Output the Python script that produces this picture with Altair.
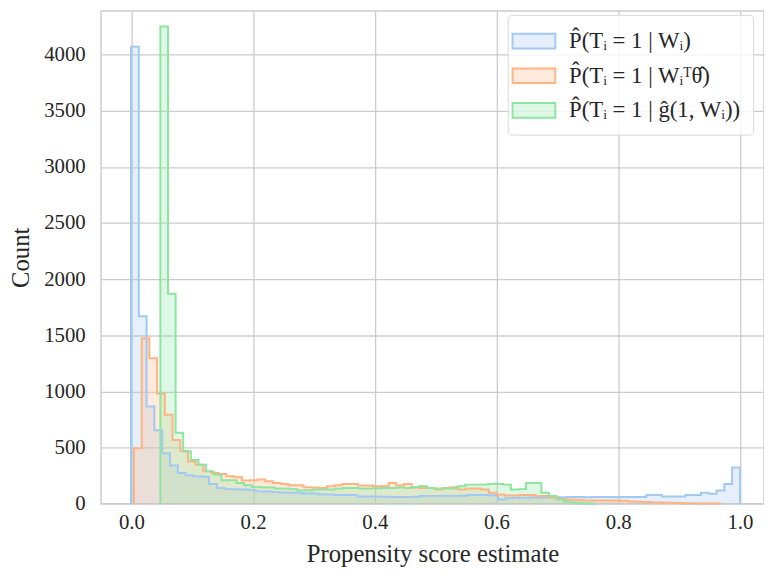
import altair as alt
import pandas as pd

# ---- data ----
series_names = [
    "P̂(Tᵢ = 1 | Wᵢ)",
    "P̂(Tᵢ = 1 | Wᵢᵀθ̂)",
    "P̂(Tᵢ = 1 | ĝ(1, Wᵢ))",
]

# bin start and bin width (data units) of each histogram
blue_start, blue_width = -0.0007, 0.01283
orange_start, orange_width = 0.0042, 0.01268
green_start, green_width = 0.0476, 0.01252

blue_counts = [
    4070, 1670, 866, 655, 450, 340, 273, 253, 245, 240,
    176, 141, 130, 128, 126, 122, 110, 108, 105, 100,
    97, 97, 92, 90, 85, 82, 77, 77, 77, 64,
    64, 64, 62, 60, 60, 60, 62, 68, 68, 68,
    70, 68, 70, 77, 77, 77, 75, 38, 48, 53,
    53, 55, 53, 57, 58, 57, 59, 59, 58, 59,
    59, 60, 60, 60, 59, 60, 77, 77, 64, 64,
    64, 77, 77, 97, 88, 117, 176, 323,
]

orange_counts = [
    493, 1471, 1295, 978, 793, 567, 470, 376, 346, 288,
    273, 265, 244, 235, 206, 210, 215, 200, 185, 176,
    165, 165, 147, 145, 141, 156, 165, 176, 176, 162,
    162, 155, 156, 185, 165, 176, 145, 141, 141, 126,
    141, 147, 126, 135, 135, 126, 97, 82, 73, 73,
    77, 77, 68, 68, 53, 40, 38, 35, 29, 29,
    28, 29, 28, 27, 20, 18, 16, 12, 10, 8,
    6, 5, 4, 3, 2, 2,
]

green_counts = [
    4250, 1870, 632, 464, 390, 346, 288, 258, 209, 209,
    185, 165, 150, 147, 145, 135, 135, 130, 117, 120,
    126, 126, 126, 135, 141, 141, 135, 135, 138, 141,
    141, 145, 141, 150, 156, 141, 135, 135, 135, 156,
    170, 170, 170, 176, 176, 170, 126, 130, 185, 185,
    97, 68, 38, 20, 10, 5, 2,
]

x_ticks = [0.0, 0.2, 0.4, 0.6, 0.8, 1.0]
y_ticks = [0, 500, 1000, 1500, 2000, 2500, 3000, 3500, 4000]

line_colors = ["#a1c9f4", "#ffb482", "#8de5a1"]
fill_colors = ["rgba(161,201,244,0.28)", "rgba(255,180,130,0.28)", "rgba(141,229,161,0.28)"]

# ---- build step outlines from the bin counts ----
rows = []
for name, start, width, counts in zip(
    series_names,
    [blue_start, orange_start, green_start],
    [blue_width, orange_width, green_width],
    [blue_counts, orange_counts, green_counts],
):
    n = len(counts)
    rows.append(dict(series=name, x=start, y=0, order=0))
    for k, c in enumerate(counts):
        rows.append(dict(series=name, x=start + k * width, y=c, order=k + 1))
    rows.append(dict(series=name, x=start + n * width, y=0, order=n + 1))
df = pd.DataFrame(rows)

FONT = "Liberation Serif"
TXT = "#262626"

legend = alt.Legend(
    title=None,
    orient="none",
    legendX=411,
    legendY=4,
    symbolType="M-1.6,-0.55H1.6V0.55H-1.6Z",
    symbolSize=729,
    symbolStrokeWidth=2,
    labelFont=FONT,
    labelFontSize=23,
    labelColor=TXT,
    labelOffset=21,
    labelLimit=400,
    rowPadding=8,
    padding=12,
    strokeColor="#d9d9d9",
    fillColor="rgba(255,255,255,0.8)",
    cornerRadius=4,
)

x_enc = alt.X(
    "x:Q",
    scale=alt.Scale(domain=[-0.04992, 1.03951], nice=False, zero=False),
    axis=alt.Axis(values=x_ticks, format=".1f", title="Propensity score estimate",
                  labelFont=FONT, titleFont=FONT),
)
y_enc = alt.Y(
    "y:Q",
    stack=None,
    scale=alt.Scale(domain=[0, 4387.7], nice=False),
    axis=alt.Axis(values=y_ticks, format="d", title="Count",
                  labelFont=FONT, titleFont=FONT),
)

base = alt.Chart(df)

area = base.transform_filter("datum.order > 0").mark_area(
    interpolate="step-after"
).encode(
    x=x_enc,
    y=y_enc,
    fill=alt.Fill(
        "series:N",
        sort=series_names,
        scale=alt.Scale(domain=series_names, range=fill_colors),
        legend=legend,
    ),
)

line = base.mark_line(interpolate="step-after", strokeWidth=2).encode(
    x=x_enc,
    y=y_enc,
    stroke=alt.Stroke(
        "series:N",
        sort=series_names,
        scale=alt.Scale(domain=series_names, range=line_colors),
        legend=legend,
    ),
    order="order:Q",
)

chart = (
    alt.layer(area, line)
    .properties(
        width=670,
        height=498,
        autosize=alt.AutoSizeParams(type="none"),
        padding={"left": 94, "top": 0, "right": 0, "bottom": 63},
    )
    .configure_view(stroke="#cccccc", strokeWidth=1.5)
    .configure_axis(
        domain=False,
        ticks=False,
        grid=True,
        gridColor="#cccccc",
        gridWidth=1.3,
        labelFont=FONT,
        labelFontSize=21,
        labelColor=TXT,
        titleFont=FONT,
        titleFontSize=25,
        titleFontWeight="normal",
        titleColor=TXT,
    )
    .configure_axisX(labelPadding=8, titlePadding=9)
    .configure_axisY(labelPadding=16, titlePadding=10)
)

chart.save("out.html", embed_options={"renderer": "svg", "actions": False})
